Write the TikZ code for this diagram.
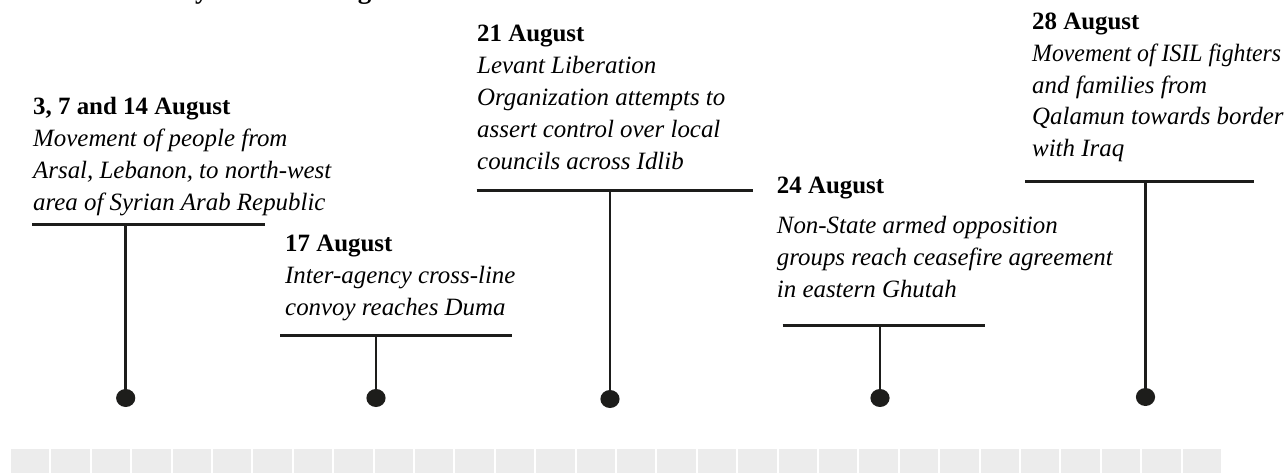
\documentclass[tikz,border=0pt]{standalone}
\usepackage{fontspec}
\setmainfont{Liberation Serif}
\usetikzlibrary{shapes.geometric}
\definecolor{ink}{HTML}{1D1D1B}
\definecolor{cell}{HTML}{ECECEC}
\begin{document}
\begin{tikzpicture}[x=1pt,y=-1pt,
  datefont/.style={anchor=base west, inner sep=0pt, font=\fontsize{24.9}{30}\selectfont\bfseries},
  descfont/.style={anchor=base west, inner sep=0pt, font=\fontsize{24.9}{30}\selectfont\itshape},
  titlefont/.style={anchor=base west, inner sep=0pt, font=\fontsize{27}{30}\selectfont\bfseries},
  bar/.style={draw=ink, line width=3pt},
  stem/.style={draw=ink, line width=2.6pt},
  pin/.style={ellipse, fill=ink, minimum width=19.2pt, minimum height=18pt, inner sep=0pt},
  tile/.style={fill=cell}]
\useasboundingbox (0,0) rectangle (1288,473);
\clip (0,0) rectangle (1288,473);
\fill[white] (0,0) rectangle (1288,473);

% title (cut off at the top)
\node[titlefont] (title) at (162,-1.5) {Key events in August};

% bottom strip
\foreach \i in {0,...,29}
  \fill[tile] ({11+\i*40.4},449) rectangle ++(38.4,30);

% block 1
\node[datefont] (d1) at (33,115) {3, 7 and 14 August};
\node[descfont] (d1a) at (33,146.7) {Movement of people from};
\node[descfont] (d1b) at (33,179) {Arsal, Lebanon, to north-west};
\node[descfont] (d1c) at (33,210.7) {area of Syrian Arab Republic};
\coordinate (b1l) at (32,225);
\coordinate (b1r) at (265,225);
\coordinate (t1) at (125.7,225);
\node[pin] (p1) at (125.7,398) {};
\draw[bar] (b1l) -- (b1r);
\draw[stem] (t1) -- (p1.center);

% block 2
\node[datefont] (d2) at (285,251.7) {17 August};
\node[descfont] (d2a) at (285,283.3) {Inter-agency cross-line};
\node[descfont] (d2b) at (285,315) {convoy reaches Duma};
\coordinate (b2l) at (280,335);
\coordinate (b2r) at (512,335);
\coordinate (t2) at (376,335);
\node[pin] (p2) at (376,398) {};
\draw[bar] (b2l) -- (b2r);
\draw[stem] (t2) -- (p2.center);

% block 3
\node[datefont] (d3) at (477,41.7) {21 August};
\node[descfont] (d3a) at (477,73.3) {Levant Liberation};
\node[descfont] (d3b) at (477,106) {Organization attempts to};
\node[descfont] (d3c) at (477,137.7) {assert control over local};
\node[descfont] (d3d) at (477,169.3) {councils across Idlib};
\coordinate (b3l) at (476.7,190.7);
\coordinate (b3r) at (753,190.7);
\coordinate (t3) at (610,190.7);
\node[pin] (p3) at (610,399) {};
\draw[bar] (b3l) -- (b3r);
\draw[stem] (t3) -- (p3.center);

% block 4
\node[datefont] (d4) at (776.7,193.3) {24 August};
\node[descfont] (d4a) at (776.7,233.3) {Non-State armed opposition};
\node[descfont] (d4b) at (776.7,265.5) {groups reach ceasefire agreement};
\node[descfont] (d4c) at (776.7,297.7) {in eastern Ghutah};
\coordinate (b4l) at (782.7,325.7);
\coordinate (b4r) at (985,325.7);
\coordinate (t4) at (880,325.7);
\node[pin] (p4) at (880,398) {};
\draw[bar] (b4l) -- (b4r);
\draw[stem] (t4) -- (p4.center);

% block 5
\node[datefont] (d5) at (1032,29.3) {28 August};
\node[descfont] (d5a) at (1032,61.7) {\scalebox{0.955}[1]{Movement of ISIL fighters}};
\node[descfont] (d5b) at (1032,93.3) {and families from};
\node[descfont] (d5c) at (1032,125) {Qalamun towards border};
\node[descfont] (d5d) at (1032,156.7) {with Iraq};
\coordinate (b5l) at (1025,181.7);
\coordinate (b5r) at (1254,181.7);
\coordinate (t5) at (1145.5,181.7);
\node[pin] (p5) at (1145.5,397) {};
\draw[bar] (b5l) -- (b5r);
\draw[stem] (t5) -- (p5.center);
\end{tikzpicture}
\end{document}
